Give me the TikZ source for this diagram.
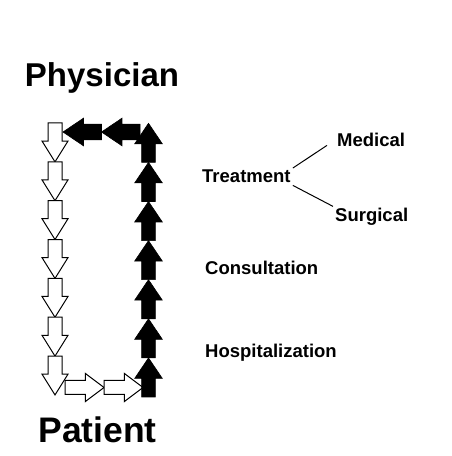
\documentclass[tikz,border=0pt]{standalone}
\usepackage{fontspec}
\setmainfont{Liberation Sans}
\usepackage{tikz}
\usetikzlibrary{arrows.meta,positioning,shapes.arrows}
\definecolor{flowblack}{HTML}{000000}
\definecolor{flowwhite}{HTML}{FFFFFF}

\begin{document}
\begin{tikzpicture}[x=1pt,y=1pt,
 downarr/.style={single arrow,draw=flowblack,fill=flowwhite,line width=1pt,inner sep=6.5pt,outer sep=0pt,shape border rotate=270,anchor=tail,
   minimum height=38.85pt,minimum width=25pt,single arrow head extend=6pt,single arrow tip angle=64,single arrow head indent=0pt},
 rightarr/.style={single arrow,draw=flowblack,fill=flowwhite,line width=1pt,inner sep=6.5pt,outer sep=0pt,shape border rotate=0,anchor=tail,
   minimum height=39pt,minimum width=27pt,single arrow head extend=7pt,single arrow tip angle=74,single arrow head indent=0pt},
 uparr/.style={single arrow,draw=flowblack,fill=flowblack,line width=0.6pt,inner sep=6.5pt,outer sep=0pt,shape border rotate=90,anchor=tail,
   minimum height=39.1pt,minimum width=27pt,single arrow head extend=7pt,single arrow tip angle=68,single arrow head indent=0pt},
 leftarr/.style={single arrow,draw=flowblack,fill=flowblack,line width=0.6pt,inner sep=7.5pt,outer sep=0pt,shape border rotate=180,anchor=tail,
   minimum height=38.5pt,minimum width=27pt,single arrow head extend=6pt,single arrow tip angle=68,single arrow head indent=0pt},
 roleword/.style={font=\fontsize{33}{40}\selectfont\bfseries,inner sep=0pt,anchor=base},
 careword/.style={font=\fontsize{18.5}{22}\selectfont\bfseries,inner sep=2pt,anchor=base west},
 branchline/.style={line width=1pt,draw=flowblack}
]
\useasboundingbox (0,0) rectangle (451,456);
\node[roleword] (physician) at (102,369) {Physician};
\node[roleword,font=\fontsize{35.5}{40}\selectfont\bfseries] (patient) at (97.5,13) {Patient};
% white arrows down the left side
\node[downarr] (d1) at (55,333) {};
\node[downarr] (d2) at (d1.tip) {};
\node[downarr] (d3) at (d2.tip) {};
\node[downarr] (d4) at (d3.tip) {};
\node[downarr] (d5) at (d4.tip) {};
\node[downarr] (d6) at (d5.tip) {};
\node[downarr] (d7) at (d6.tip) {};
\node[rightarr] (r1) at (65,68.5) {};
\node[rightarr] (r2) at (r1.tip) {};
% black arrows up the right side
\node[uparr] (u1) at (148.5,59) {};
\node[uparr] (u2) at (u1.tip) {};
\node[uparr] (u3) at (u2.tip) {};
\node[uparr] (u4) at (u3.tip) {};
\node[uparr] (u5) at (u4.tip) {};
\node[uparr] (u6) at (u5.tip) {};
\node[uparr] (u7) at (u6.tip) {};
\node[leftarr] (l1) at (140,324) {};
\node[leftarr] (l2) at (l1.tip) {};
% kinds of care
\node[careword] (treatment) at (200,273) {Treatment};
\node[careword] (medical) at (335,309) {Medical};
\node[careword] (surgical) at (333,234) {Surgical};
\node[careword] (consultation) at (203,181) {Consultation};
\node[careword] (hospitalization) at (203,98) {Hospitalization};
\draw[branchline] (treatment.north east)--([xshift=-8pt,yshift=4pt]medical.south west);
\draw[branchline] (treatment.south east)--(surgical.north west);
\end{tikzpicture}
\end{document}
